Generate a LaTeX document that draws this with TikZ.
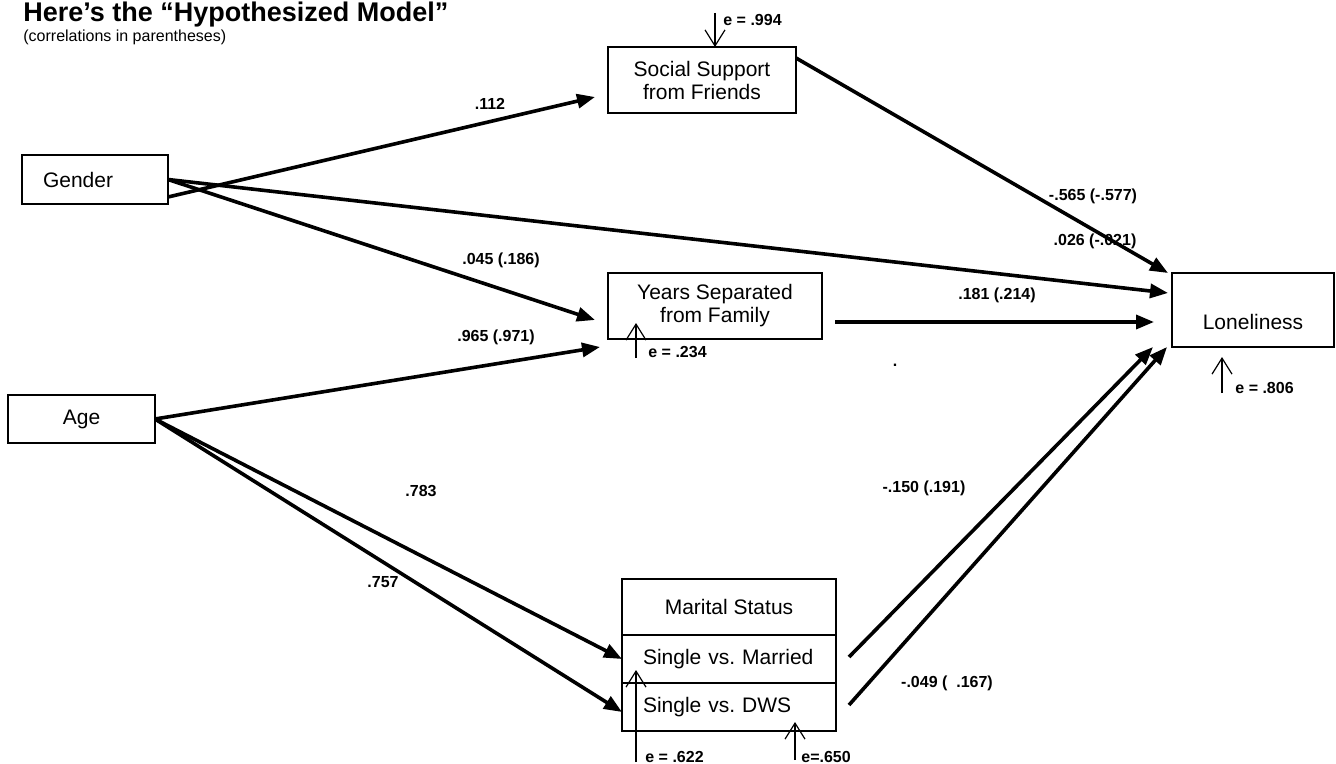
\documentclass[tikz,border=0pt]{standalone}
\usepackage{fontspec}
\setmainfont{Liberation Sans}
\usetikzlibrary{arrows.meta,positioning}

\begin{document}
\begin{tikzpicture}[x=0.5pt,y=-0.5pt,
  var/.style={draw,line width=1pt,rectangle,inner sep=0pt,outer sep=0pt,font=\fontsize{10.5}{11.5}\selectfont,align=center},
  coef/.style={font=\bfseries\fontsize{8}{9}\selectfont,inner sep=0pt},
  effect/.style={line width=1.8pt,-{Triangle[length=9pt,width=7pt]}},
  resid/.style={line width=0.6pt,-{Straight Barb[length=8pt,width=10pt]}}]

\useasboundingbox (0,0) rectangle (1336,764);

\node[anchor=base west,inner sep=0pt,font=\bfseries\fontsize{13.5}{16}\selectfont] (title) at (23,22) {Here’s the “Hypothesized Model”};
\node[anchor=base west,inner sep=0pt,font=\fontsize{8}{9}\selectfont] (subtitle) at (23,42) {(correlations in parentheses)};

\node[var,minimum width=73pt,minimum height=24.5pt,text width=52pt,align=left] (gender) at (95,179.5) {Gender};
\node[var,minimum width=73.5pt,minimum height=24pt] (age) at (81.5,419) {Age};
\node[var,minimum width=94pt,minimum height=33pt] (social) at (702,80) {Social Support\\from Friends};
\node[var,minimum width=107pt,minimum height=33pt] (years) at (715,306) {Years Separated\\from Family};
\node[var,minimum width=81pt,minimum height=37pt,label={[font=\fontsize{10.5}{11.5}\selectfont,yshift=-6pt]center:Loneliness}] (lonely) at (1253,310) {};

\node[var,minimum width=107pt,minimum height=28pt] (ms) at (729,607) {Marital Status};
\node[var,below=0pt of ms,minimum width=107pt,minimum height=24pt,text width=86pt,align=left] (mar) {\mbox{Single vs.\ Married}};
\node[var,below=0pt of mar,minimum width=107pt,minimum height=24pt,text width=86pt,align=left] (dws) {\mbox{Single vs.\ DWS}};

\draw[effect] ([yshift=-8.75pt]gender.east) -- ([xshift=-6.5pt,yshift=-8.5pt]social.west);
\draw[effect] (gender.east) -- ([xshift=-2pt,yshift=8.5pt]lonely.west);
\draw[effect] (gender.east) -- ([xshift=-6.5pt,yshift=-7pt]years.west);
\draw[effect] (age.east) -- ([xshift=-4pt,yshift=-20.5pt]years.west);
\draw[effect] (age.east) -- (mar.west);
\draw[effect] (age.east) -- ([yshift=-2.5pt]dws.west);
\draw[effect] ([yshift=11pt]social.east) -- ([xshift=-2pt]lonely.north west);
\draw[effect] ([xshift=6.5pt,yshift=-8pt]years.east) -- ([xshift=-9pt,yshift=-6pt]lonely.west);
\draw[effect] ([xshift=6.5pt,yshift=1pt]mar.east) -- ([xshift=-9.5pt]lonely.south west);
\draw[effect] ([xshift=6.5pt,yshift=1pt]dws.east) -- ([xshift=-2.5pt]lonely.south west);

\node[coef] (b112) at (490,104) {.112};
\node[coef] (b565) at (1093,196) {-.565 (-.577)};
\node[coef] (b026) at (1095,241) {.026 (-.021)};
\node[coef] (b045) at (501,260) {.045 (.186)};
\node[coef] (b181) at (997,295) {.181 (.214)};
\node[coef] (b965) at (496,337) {.965 (.971)};
\node[coef] (dot) at (895,365) {.};
\node[coef] (b783) at (421,491) {.783};
\node[coef] (b150) at (924,488) {-.150 (.191)};
\node[coef] (b757) at (383,582) {.757};
\node[coef] (b049) at (947,683) {-.049 ( \ .167)};

\coordinate (r994) at (715,13);
\draw[resid] (r994) -- (r994 |- social.north);
\node[coef,anchor=west] (e994) at (723,20) {e = .994};

\coordinate (r234) at (636,358);
\draw[resid] (r234) -- ++(0,-35);
\node[coef,anchor=west] (e234) at (648,352) {e = .234};

\coordinate (r806) at (1222,393);
\draw[resid] (r806) -- ++(0,-36);
\node[coef,anchor=west] (e806) at (1235,388) {e = .806};

\coordinate (r622) at (636,762);
\draw[resid] (r622) -- ++(0,-92);
\node[coef,anchor=west] (e622) at (645,757) {e = .622};

\coordinate (r650) at (795,760);
\draw[resid] (r650) -- ++(0,-38);
\node[coef,anchor=west] (e650) at (801,757) {e=.650};

\end{tikzpicture}
\end{document}
